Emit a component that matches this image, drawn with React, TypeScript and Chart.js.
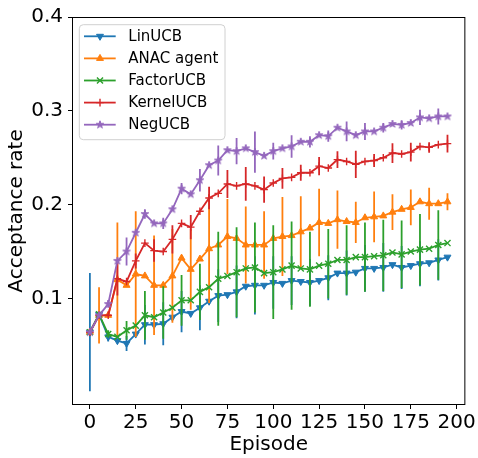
import { useEffect, useRef } from 'react';
import { Chart, registerables } from 'chart.js';
import { drawPoint } from 'chart.js/helpers';

Chart.register(...registerables);

const episodes = [0, 5, 10, 15, 20, 25, 30, 35, 40, 45, 50, 55, 60, 65, 70, 75, 80, 85, 90, 95, 100, 105, 110, 115, 120, 125, 130, 135, 140, 145, 150, 155, 160, 165, 170, 175, 180, 185, 190, 195];

const seriesNames = ['LinUCB', 'ANAC agent', 'FactorUCB', 'KernelUCB', 'NegUCB'];

const linUCB = [0.064, 0.083, 0.059, 0.055, 0.052, 0.062, 0.072, 0.072, 0.073, 0.080, 0.086, 0.084, 0.090, 0.097, 0.103, 0.104, 0.107, 0.113, 0.114, 0.114, 0.117, 0.116, 0.119, 0.118, 0.117, 0.119, 0.122, 0.127, 0.127, 0.128, 0.132, 0.132, 0.133, 0.136, 0.133, 0.135, 0.137, 0.138, 0.141, 0.144];
const linUCBErr = [0.063, 0, 0.005, 0, 0.008, 0, 0.021, 0, 0.023, 0, 0.022, 0, 0.024, 0, 0.028, 0, 0.028, 0, 0.031, 0, 0.028, 0, 0.026, 0, 0.025, 0, 0.024, 0, 0.024, 0, 0.025, 0, 0.026, 0, 0.023, 0, 0.024, 0, 0.022, 0];

const anacAgent = [0.064, 0.082, 0.082, 0.120, 0.114, 0.126, 0.124, 0.114, 0.114, 0.124, 0.143, 0.131, 0.142, 0.153, 0.157, 0.166, 0.164, 0.157, 0.157, 0.157, 0.164, 0.166, 0.167, 0.171, 0.175, 0.181, 0.180, 0.184, 0.182, 0.181, 0.186, 0.187, 0.188, 0.192, 0.195, 0.197, 0.203, 0.201, 0.201, 0.203];
const anacAgentErr = [0, 0.030, 0, 0.061, 0, 0.067, 0, 0.053, 0, 0.050, 0, 0.043, 0, 0.058, 0, 0.040, 0, 0.041, 0, 0.036, 0, 0.042, 0, 0.038, 0, 0.036, 0, 0.031, 0, 0.022, 0, 0.027, 0, 0.019, 0, 0.019, 0, 0.017, 0, 0.009];

const factorUCB = [0.064, 0.083, 0.062, 0.059, 0.066, 0.071, 0.082, 0.080, 0.085, 0.090, 0.098, 0.098, 0.107, 0.112, 0.121, 0.124, 0.128, 0.132, 0.133, 0.127, 0.128, 0.131, 0.135, 0.132, 0.131, 0.135, 0.137, 0.141, 0.141, 0.144, 0.144, 0.145, 0.146, 0.149, 0.147, 0.150, 0.152, 0.153, 0.157, 0.159];
const factorUCBErr = [0, 0, 0.004, 0, 0.010, 0, 0.026, 0, 0.028, 0, 0.027, 0, 0.030, 0, 0.050, 0, 0.048, 0, 0.048, 0, 0.050, 0, 0.047, 0, 0.040, 0, 0.037, 0, 0.037, 0, 0.037, 0, 0.038, 0, 0.036, 0, 0.038, 0, 0.037, 0];

const kernelUCB = [0.064, 0.082, 0.082, 0.121, 0.118, 0.140, 0.159, 0.151, 0.150, 0.163, 0.180, 0.176, 0.193, 0.207, 0.212, 0.222, 0.220, 0.222, 0.220, 0.216, 0.223, 0.228, 0.229, 0.234, 0.234, 0.241, 0.239, 0.248, 0.246, 0.243, 0.246, 0.247, 0.250, 0.255, 0.254, 0.256, 0.262, 0.261, 0.264, 0.265];
const kernelUCBErr = [0, 0.003, 0, 0.018, 0, 0.008, 0, 0.012, 0, 0.015, 0, 0.013, 0, 0.012, 0, 0.015, 0, 0.018, 0, 0.014, 0, 0.011, 0, 0.0085, 0, 0.0097, 0, 0.009, 0, 0.0145, 0, 0.007, 0, 0.0105, 0, 0.010, 0, 0.0056, 0, 0.0095];

const negUCB = [0.064, 0.082, 0.094, 0.140, 0.150, 0.170, 0.190, 0.180, 0.180, 0.195, 0.217, 0.211, 0.226, 0.242, 0.247, 0.258, 0.257, 0.260, 0.256, 0.252, 0.257, 0.260, 0.262, 0.267, 0.267, 0.274, 0.273, 0.282, 0.278, 0.274, 0.278, 0.278, 0.282, 0.286, 0.285, 0.287, 0.293, 0.292, 0.294, 0.294];
const negUCBErr = [0, 0, 0.004, 0, 0.015, 0, 0.005, 0, 0.006, 0, 0.006, 0, 0.012, 0, 0.016, 0, 0.014, 0, 0.022, 0, 0.009, 0, 0.012, 0, 0.006, 0, 0.006, 0, 0.0105, 0, 0.009, 0, 0.005, 0, 0.005, 0, 0.008, 0, 0.0085, 0];

const xTicks = [0, 25, 50, 75, 100, 125, 150, 175, 200];
const yTicks = [0.1, 0.2, 0.3, 0.4];
const xTitle = 'Episode';
const yTitle = 'Acceptance rate';

const colors = ['#1f77b4', '#ff7f0e', '#2ca02c', '#d62728', '#9467bd'];
const FONT = "'DejaVu Sans', 'Liberation Sans', sans-serif";

function makeStar(color: string, r: number): HTMLCanvasElement {
  const c = document.createElement('canvas');
  const s = Math.ceil(r * 2 + 2);
  c.width = s;
  c.height = s;
  const g = c.getContext('2d')!;
  const cx = s / 2, cy = s / 2;
  const inner = r * 0.381966;
  g.beginPath();
  for (let i = 0; i < 10; i++) {
    const rr = i % 2 === 0 ? r : inner;
    const a = -Math.PI / 2 + (i * Math.PI) / 5;
    const px = cx + rr * Math.cos(a);
    const py = cy + rr * Math.sin(a);
    if (i === 0) g.moveTo(px, py); else g.lineTo(px, py);
  }
  g.closePath();
  g.fillStyle = color;
  g.fill();
  g.strokeStyle = color;
  g.lineWidth = 1;
  g.stroke();
  return c;
}

export default function App() {
  const ref = useRef<HTMLCanvasElement | null>(null);

  useEffect(() => {
    if (!ref.current) return;
    const star = makeStar(colors[4], 4.0);
    const values = [linUCB, anacAgent, factorUCB, kernelUCB, negUCB];
    const errs = [linUCBErr, anacAgentErr, factorUCBErr, kernelUCBErr, negUCBErr];
    const styles: any[] = [
      { pointStyle: 'triangle', rotation: 180, pointRadius: 4, pointBorderWidth: 1 },
      { pointStyle: 'triangle', rotation: 0, pointRadius: 4, pointBorderWidth: 1 },
      { pointStyle: 'crossRot', rotation: 0, pointRadius: 4.3, pointBorderWidth: 1.4 },
      { pointStyle: 'cross', rotation: 0, pointRadius: 3.8, pointBorderWidth: 1.4 },
      { pointStyle: star, rotation: 0, pointRadius: 4.0, pointBorderWidth: 1 },
    ];

    const datasets = seriesNames.map((name, i) => ({
      label: name,
      data: episodes.map((e, j) => ({ x: e, y: values[i][j] })),
      borderColor: colors[i],
      backgroundColor: colors[i],
      pointBackgroundColor: colors[i],
      pointBorderColor: colors[i],
      borderWidth: 1.8,
      pointStyle: styles[i].pointStyle,
      rotation: styles[i].rotation,
      pointRadius: styles[i].pointRadius,
      pointBorderWidth: styles[i].pointBorderWidth,
      tension: 0,
      order: seriesNames.length - 1 - i,
    }));

    const errorBars = {
      id: 'errorBars',
      beforeDatasetDraw(chart: any, args: any) {
        const i = args.index;
        const e = errs[i];
        const v = values[i];
        const { ctx, chartArea, scales } = chart;
        ctx.save();
        ctx.beginPath();
        ctx.rect(chartArea.left, chartArea.top, chartArea.right - chartArea.left, chartArea.bottom - chartArea.top);
        ctx.clip();
        ctx.strokeStyle = colors[i];
        ctx.lineWidth = 1.8;
        ctx.beginPath();
        for (let j = 0; j < episodes.length; j++) {
          if (!e[j]) continue;
          const px = scales.x.getPixelForValue(episodes[j]);
          ctx.moveTo(px, scales.y.getPixelForValue(v[j] - e[j]));
          ctx.lineTo(px, scales.y.getPixelForValue(v[j] + e[j]));
        }
        ctx.stroke();
        ctx.restore();
      },
    };

    const frameAndLegend = {
      id: 'frameAndLegend',
      afterDraw(chart: any) {
        const { ctx, chartArea } = chart;
        const { left, top, right, bottom } = chartArea;
        ctx.save();
        ctx.strokeStyle = '#000';
        ctx.lineWidth = 1;
        ctx.strokeRect(left + 0.5, top + 0.5, right - left - 1, bottom - top - 1);

        // legend
        const bx = left + 7.3, by = top + 7.7, bw = 145.7, bh = 115;
        const r = 4;
        ctx.beginPath();
        ctx.moveTo(bx + r, by);
        ctx.lineTo(bx + bw - r, by);
        ctx.quadraticCurveTo(bx + bw, by, bx + bw, by + r);
        ctx.lineTo(bx + bw, by + bh - r);
        ctx.quadraticCurveTo(bx + bw, by + bh, bx + bw - r, by + bh);
        ctx.lineTo(bx + r, by + bh);
        ctx.quadraticCurveTo(bx, by + bh, bx, by + bh - r);
        ctx.lineTo(bx, by + r);
        ctx.quadraticCurveTo(bx, by, bx + r, by);
        ctx.closePath();
        ctx.fillStyle = 'rgba(255,255,255,0.8)';
        ctx.fill();
        ctx.strokeStyle = '#d0d0d0';
        ctx.lineWidth = 1;
        ctx.stroke();

        ctx.font = `15px ${FONT}`;
        ctx.textBaseline = 'middle';
        ctx.textAlign = 'left';
        seriesNames.forEach((name, i) => {
          const cy = by + 11.6 + i * 22.1;
          ctx.strokeStyle = colors[i];
          ctx.lineWidth = 1.8;
          ctx.beginPath();
          ctx.moveTo(bx + 4.7, cy);
          ctx.lineTo(bx + 36.4, cy);
          ctx.stroke();
          ctx.fillStyle = colors[i];
          ctx.lineWidth = styles[i].pointBorderWidth;
          drawPoint(ctx, {
            pointStyle: styles[i].pointStyle,
            rotation: styles[i].rotation,
            radius: styles[i].pointRadius,
            borderWidth: styles[i].pointBorderWidth,
          } as any, bx + 20.7, cy);
          ctx.fillStyle = '#000';
          ctx.fillText(name, bx + 49, cy + 0.5);
        });
        ctx.restore();
      },
    };

    const chart = new Chart(ref.current, {
      type: 'line',
      data: { datasets: datasets as any },
      options: {
        animation: false,
        responsive: false,
        devicePixelRatio: 1,
        layout: { padding: { left: 0, right: 12, top: 14, bottom: 0 } },
        plugins: { legend: { display: false }, tooltip: { enabled: false }, title: { display: false } },
        scales: {
          x: {
            type: 'linear',
            min: -9.75,
            max: 204.75,
            afterBuildTicks: (s: any) => { s.ticks = xTicks.map((v) => ({ value: v })); },
            afterFit: (s: any) => { s.height = 53; },
            ticks: { color: '#000', font: { family: FONT, size: 20 }, padding: 2, maxRotation: 0, autoSkip: false, callback: (v: any) => String(v) },
            grid: { display: true, drawOnChartArea: false, drawTicks: true, tickLength: 4, color: '#000', lineWidth: 1 },
            border: { display: false },
            title: { display: true, text: xTitle, color: '#000', font: { family: FONT, size: 20 }, padding: { top: 0, bottom: 1 } },
          },
          y: {
            type: 'linear',
            min: -0.0136,
            max: 0.4,
            afterBuildTicks: (s: any) => { s.ticks = yTicks.map((v) => ({ value: v })); },
            afterFit: (s: any) => { s.width = 72; },
            ticks: { color: '#000', font: { family: FONT, size: 20 }, padding: 5, autoSkip: false, callback: (v: any) => Number(v).toFixed(1) },
            grid: { display: true, drawOnChartArea: false, drawTicks: true, tickLength: 4, color: '#000', lineWidth: 1 },
            border: { display: false },
            title: { display: true, text: yTitle, color: '#000', font: { family: FONT, size: 20 }, padding: { top: 5, bottom: 0 } },
          },
        },
      },
      plugins: [errorBars, frameAndLegend],
    });
    return () => chart.destroy();
  }, []);

  return (
    <div style={{ position: 'absolute', left: 0, top: 0, width: 478, height: 458 }}>
      <canvas ref={ref} width={478} height={458} style={{ width: 478, height: 458 }} />
    </div>
  );
}
